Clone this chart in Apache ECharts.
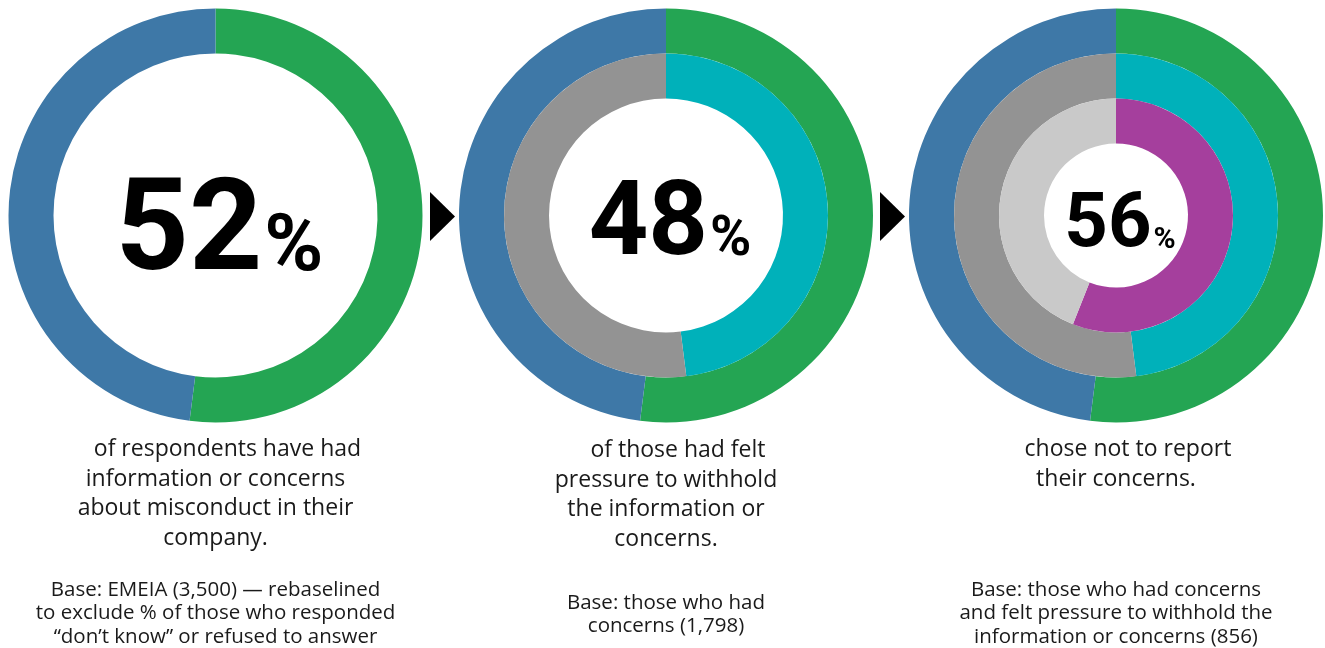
<!DOCTYPE html>
<html>
<head>
    <meta charset="utf-8">
    <title>Misconduct concerns</title>
    <script src="https://cdn.jsdelivr.net/npm/echarts@6/dist/echarts.min.js"></script>
    <style>
        *{margin: 0;padding: 0;}
        body{background: #fff;}
    </style>
</head>
<body>
    <div id="main" style="width: 1325px;height:648px;"></div>

    <script type="text/javascript">
        // ring values (%), outer ring first
        var ringNames = ['had concerns', 'felt pressure', 'did not report'];
        var ringValues = [52, 48, 56];
        // how many rings each panel shows
        var panelRings = [1, 2, 3];
        var descriptions = [
            '    of respondents have had\ninformation or concerns\nabout misconduct in their\ncompany.',
            '    of those had felt\npressure to withhold\nthe information or\nconcerns.',
            '    chose not to report\ntheir concerns.'
        ];
        var bases = [
            'Base: EMEIA (3,500) \u2014 rebaselined\nto exclude % of those who responded\n\u201cdon\u2019t know\u201d or refused to answer',
            'Base: those who had\nconcerns (1,798)',
            'Base: those who had concerns\nand felt pressure to withhold the\ninformation or concerns (856)'
        ];

        // layout / style
        var centersX = [215.5, 666, 1116];
        var centerY = 215.5;
        var ringRadii = [[162, 207], [117, 162], [72, 117]];
        var ringColors = [['#24a553', '#3e78a7'], ['#00b1ba', '#939393'], ['#a53f9d', '#c9c9c9']];
        var bigSize = [128, 104, 76];
        var pctSize = [80, 56, 30];
        var numberY = [237, 228, 227];
        var descTop = [435, 436, 435];
        var baseTop = [578, 591, 578];

        var myChart = echarts.init(document.getElementById('main'));

        var series = [];
        var graphic = [];
        panelRings.forEach(function (n, p) {
            for (var r = 0; r < n; r++) {
                series.push({
                    name: ringNames[r],
                    type: 'pie',
                    center: [centersX[p], centerY],
                    radius: ringRadii[r],
                    startAngle: 90,
                    clockwise: true,
                    silent: true,
                    animation: false,
                    label: {show: false},
                    labelLine: {show: false},
                    emphasis: {disabled: true},
                    data: [
                        {value: ringValues[r], name: ringNames[r], itemStyle: {color: ringColors[r][0]}},
                        {value: 100 - ringValues[r], name: 'other', itemStyle: {color: ringColors[r][1]}}
                    ]
                });
            }
            // big centre number = innermost ring value
            graphic.push({
                type: 'text',
                x: centersX[p] + 4,
                y: numberY[p],
                style: {
                    text: '{n|' + ringValues[n - 1] + '}{p|%}',
                    align: 'center',
                    verticalAlign: 'middle',
                    fill: '#000',
                    rich: {
                        n: {fontFamily: 'Roboto', fontWeight: 'bold', fontSize: bigSize[p], lineHeight: bigSize[p], verticalAlign: 'bottom', fill: '#000'},
                        p: {fontFamily: 'Roboto', fontWeight: 'bold', fontSize: pctSize[p], lineHeight: pctSize[p], verticalAlign: 'bottom', fill: '#000', padding: [0, 0, Math.round((bigSize[p] - pctSize[p]) * 0.22), 2]}
                    }
                }
            });
            graphic.push({
                type: 'text',
                x: centersX[p],
                y: descTop[p],
                style: {
                    text: descriptions[p],
                    align: 'center',
                    verticalAlign: 'top',
                    fontFamily: 'Open Sans',
                    fontSize: 23,
                    lineHeight: 29.5,
                    fill: '#1a1a1a'
                }
            });
            graphic.push({
                type: 'text',
                x: centersX[p],
                y: baseTop[p],
                style: {
                    text: bases[p],
                    align: 'center',
                    verticalAlign: 'top',
                    fontFamily: 'Open Sans',
                    fontSize: 20.5,
                    lineHeight: 23.5,
                    fill: '#1a1a1a'
                }
            });
        });

        // arrows between panels
        [442.5, 892.5].forEach(function (ax) {
            graphic.push({
                type: 'polygon',
                shape: {points: [[ax - 12.5, 192], [ax + 12.5, 216.5], [ax - 12.5, 241]]},
                style: {fill: '#000'}
            });
        });

        option = {
            animation: false,
            series: series,
            graphic: graphic
        };

        myChart.setOption(option);
    </script>
</body>
</html>
